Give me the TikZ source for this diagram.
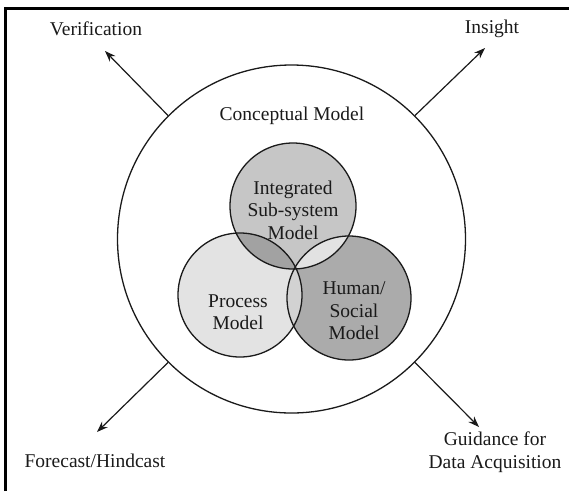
\documentclass[tikz,border=0pt]{standalone}
\usepackage{fontspec}
\setmainfont{Liberation Serif}
\usetikzlibrary{arrows.meta}
\definecolor{cTop}{HTML}{C6C6C6}
\definecolor{cLeft}{HTML}{E3E3E3}
\definecolor{cRight}{HTML}{ABABAB}
\definecolor{cTL}{HTML}{A2A2A2}
\definecolor{cTR}{HTML}{E2E2E2}
\definecolor{cLR}{HTML}{D2D2D2}
\definecolor{ink}{HTML}{1A1A1A}
\begin{document}
\begin{tikzpicture}[x=1pt,y=-1pt,
  lbl/.style={font=\fontsize{19.5}{22.5}\selectfont, text=ink, align=center, inner sep=0pt},
  ring/.style={circle, draw=ink, line width=1.3pt, inner sep=0pt},
  arr/.style={draw=ink, line width=1.2pt, -{Stealth[length=11pt,width=8pt]}},
  frame/.style={draw=black, line width=3pt}]
\useasboundingbox (0,0) rectangle (569,491);
% frame
\draw[frame] (5,491) -- (5,8) -- (569,8);
% centers
\coordinate (cT) at (293,206);
\coordinate (cL) at (240,295);
\coordinate (cR) at (349,298);
% fills
\fill[cLeft] (cL) circle[radius=62pt];
\fill[cRight] (cR) circle[radius=62pt];
\fill[cTop] (cT) circle[radius=63pt];
\begin{scope}
  \clip (cT) circle[radius=63pt];
  \fill[cTL] (cL) circle[radius=62pt];
  \fill[cTR] (cR) circle[radius=62pt];
\end{scope}
\begin{scope}
  \clip (cL) circle[radius=62pt];
  \fill[cLR] (cR) circle[radius=62pt];
\end{scope}
% outlines
\node[ring, minimum size=348pt] (big) at (291.5,239) {};
\node[ring, minimum size=126pt] (top) at (cT) {};
\node[ring, minimum size=124pt] (left) at (cL) {};
\node[ring, minimum size=124pt] (right) at (cR) {};
% texts
\node[lbl] (concept) at (292,116) {Conceptual Model};
\node[lbl] (integ) at (293,210) {Integrated\\Sub-system\\Model};
\node[lbl] (proc) at (238,312) {Process\\Model};
\node[lbl] (human) at (354,311) {Human/\\Social\\Model};
\node[lbl] (ver) at (96,29) {Verification};
\node[lbl] (ins) at (492,29) {Insight};
\node[lbl] (fore) at (95,461) {Forecast/Hindcast};
\node[lbl] (guid) at (495,452) {Guidance for\\Data Acquisition};
% arrow tips
\coordinate (tV) at (105,51);
\coordinate (tI) at (485,48);
\coordinate (tF) at (97,432);
\coordinate (tG) at (479,427);
\draw[arr] (big.135) -- (tV);
\draw[arr] (big.45) -- (tI);
\draw[arr] (big.225) -- (tF);
\draw[arr] (big.-45) -- (tG);
\end{tikzpicture}
\end{document}
